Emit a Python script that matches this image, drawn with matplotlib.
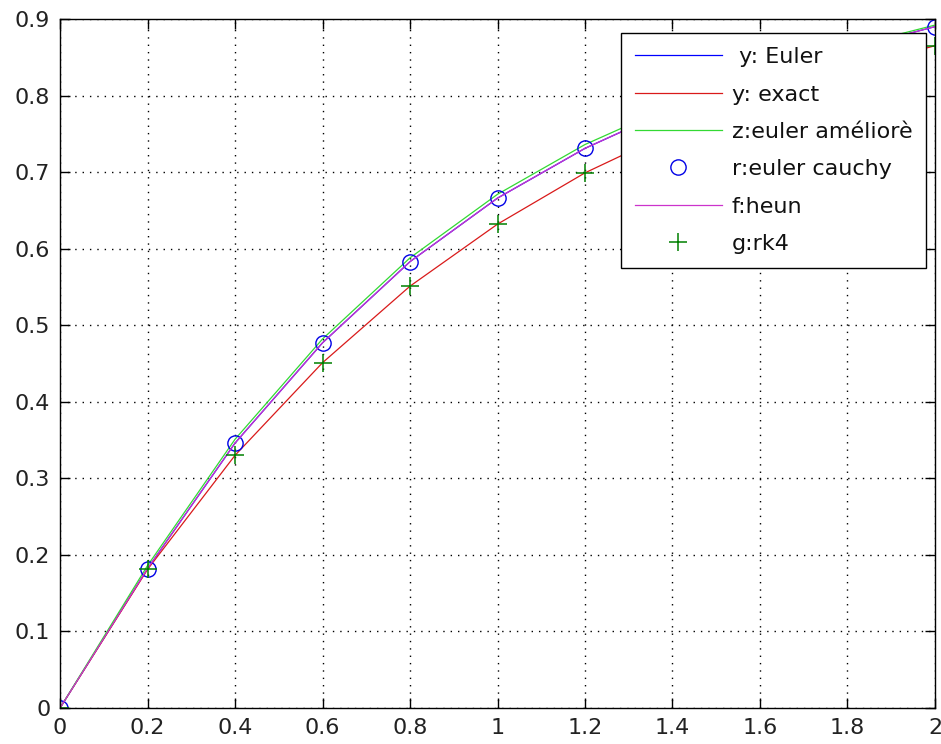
import matplotlib
matplotlib.use("Agg")
import matplotlib.pyplot as plt

x = [0, 0.2, 0.4, 0.6, 0.8, 1.0, 1.2, 1.4, 1.6, 1.8, 2.0]
y_euler = [0, 0.182, 0.346, 0.477, 0.583, 0.666, 0.731, 0.783, 0.825, 0.860, 0.890]
y_exact = [0, 0.181, 0.330, 0.451, 0.551, 0.632, 0.699, 0.753, 0.798, 0.835, 0.865]
z_ameliore = [0, 0.186, 0.351, 0.482, 0.588, 0.671, 0.736, 0.787, 0.829, 0.863, 0.892]
r_cauchy = [0, 0.182, 0.346, 0.477, 0.583, 0.666, 0.731, 0.783, 0.825, 0.860, 0.890]
f_heun = [0, 0.182, 0.346, 0.477, 0.583, 0.666, 0.731, 0.783, 0.825, 0.860, 0.890]
g_rk4 = [0, 0.181, 0.330, 0.451, 0.551, 0.632, 0.699, 0.753, 0.798, 0.835, 0.865]

labels = [" y: Euler", "y: exact", "z:euler améliorè", "r:euler cauchy", "f:heun", "g:rk4"]
xticks = [0, 0.2, 0.4, 0.6, 0.8, 1, 1.2, 1.4, 1.6, 1.8, 2]
xticklabels = ["0", "0.2", "0.4", "0.6", "0.8", "1", "1.2", "1.4", "1.6", "1.8", "2"]
yticks = [0, 0.1, 0.2, 0.3, 0.4, 0.5, 0.6, 0.7, 0.8, 0.9]
yticklabels = ["0", "0.1", "0.2", "0.3", "0.4", "0.5", "0.6", "0.7", "0.8", "0.9"]

plt.rcParams['font.family'] = ['DejaVu Sans']

fig = plt.figure(figsize=(9.41, 7.44), dpi=100)
ax = fig.add_axes([0.0638, 0.0484, 0.9298, 0.9261])

lw = 0.9
ax.plot(x, y_euler, color=(0, 0, 1), lw=lw, label=labels[0])
ax.plot(x, y_exact, color=(0.85, 0.1, 0.1), lw=lw, label=labels[1])
ax.plot(x, z_ameliore, color=(0.2, 0.85, 0.2), lw=lw, label=labels[2])
ax.plot(x, r_cauchy, linestyle='none', marker='o', markersize=11, markerfacecolor='none',
        markeredgecolor=(0, 0, 0.9), markeredgewidth=1.0, label=labels[3])
ax.plot(x, f_heun, color=(0.8, 0.2, 0.8), lw=lw, label=labels[4])
ax.plot(x, g_rk4, linestyle='none', marker='+', markersize=13, markeredgecolor=(0, 0.5, 0),
        markeredgewidth=1.1, label=labels[5])

ax.set_xlim(0, 2)
ax.set_ylim(0, 0.9)
ax.set_xticks(xticks)
ax.set_xticklabels(xticklabels)
ax.set_yticks(yticks)
ax.set_yticklabels(yticklabels)
ax.grid(True, color='black', linestyle=(0, (1, 4.3)), linewidth=1.0)
ax.tick_params(direction='in', length=7, width=1, top=True, right=True,
               labelsize=16, labelcolor='#222222', pad=7)
for s in ax.spines.values():
    s.set_linewidth(1.0)

leg = ax.legend(loc='upper right', bbox_to_anchor=(0.990, 0.979), borderaxespad=0,
                fontsize=16, fancybox=False, shadow=False, framealpha=1,
                edgecolor='black', handlelength=3.9, handletextpad=0.45,
                labelspacing=0.78, borderpad=0.62, numpoints=1)
leg.get_frame().set_linewidth(1.0)
for t in leg.get_texts():
    t.set_color('#111111')

fig.savefig("out.png", dpi=100)
